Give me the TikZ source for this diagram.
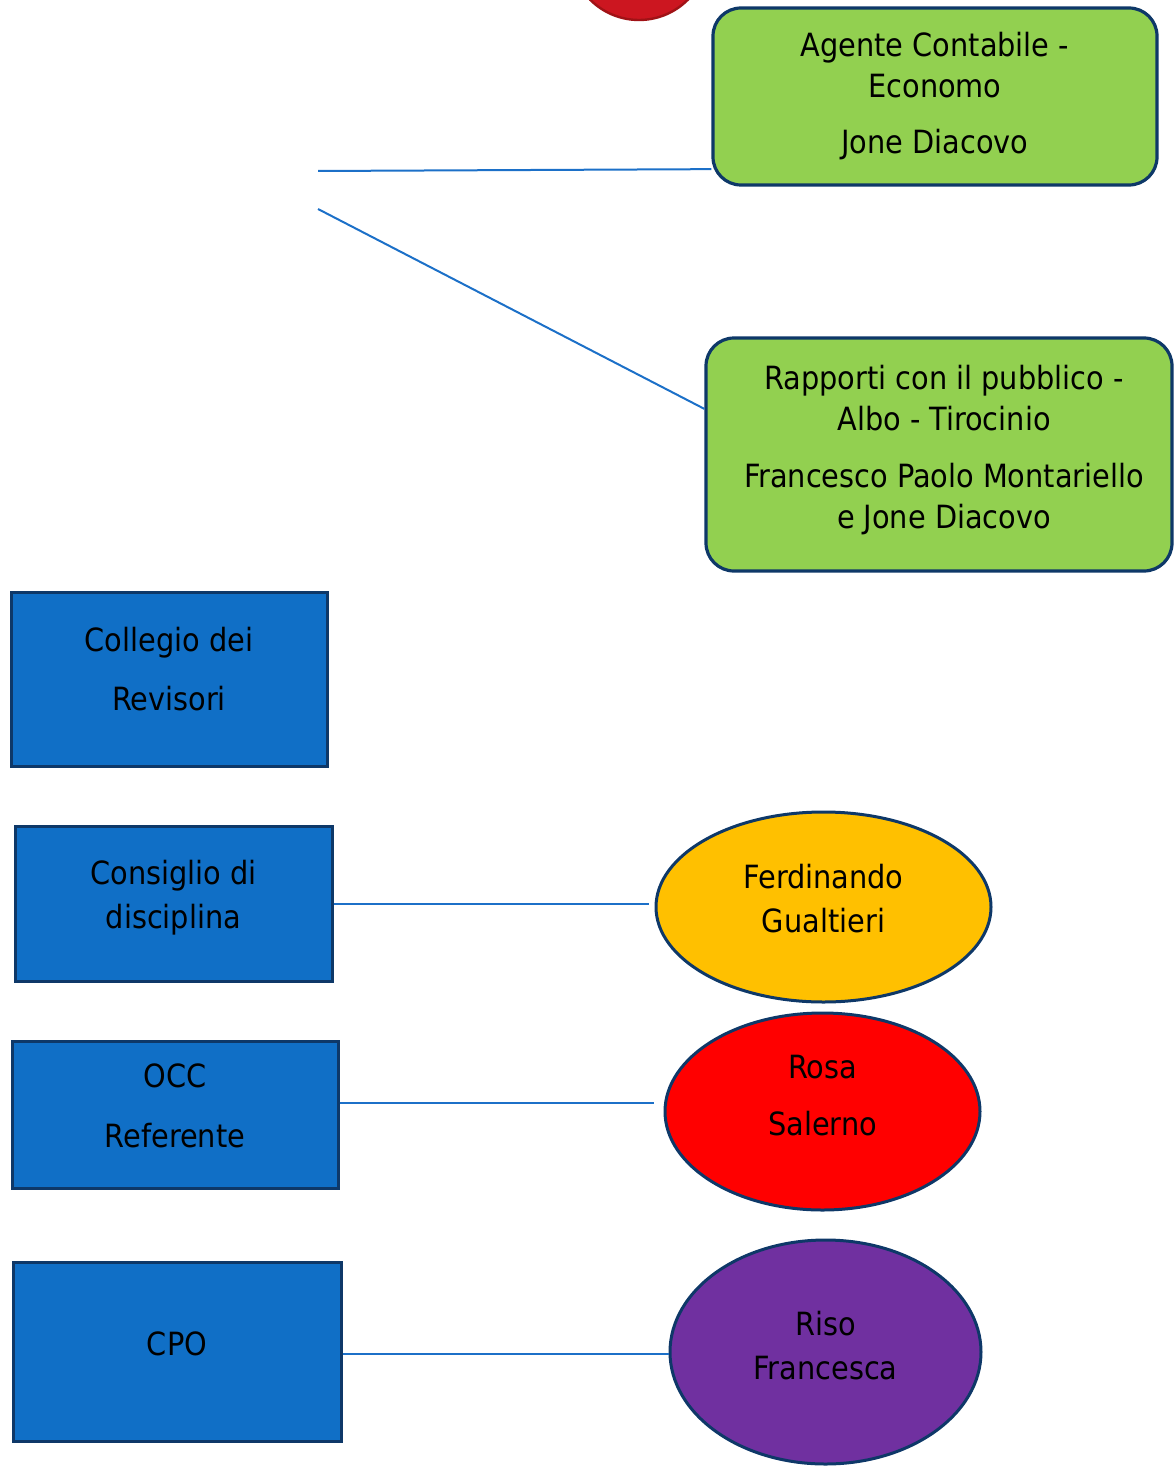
\documentclass[tikz,border=0pt]{standalone}
\usepackage{fontspec}
\setmainfont{DejaVu Sans Condensed}
\usetikzlibrary{shapes.geometric}

\definecolor{boxblue}{RGB}{16,111,198}
\definecolor{navyline}{RGB}{14,56,104}
\definecolor{leafgreen}{RGB}{146,208,80}
\definecolor{linkblue}{RGB}{28,112,200}
\definecolor{goldfill}{RGB}{255,192,0}
\definecolor{redfill}{RGB}{255,0,0}
\definecolor{purplefill}{RGB}{112,48,160}
\definecolor{topred}{RGB}{204,22,32}
\definecolor{topredline}{RGB}{160,18,22}

\begin{document}
\begin{tikzpicture}[x=0.5pt, y=-0.5pt, thick,
        every node/.style={align=center, inner sep=0pt, font=\fontsize{16}{20.5}\selectfont},
        orgbox/.style={draw=navyline, line width=1.5pt, fill=boxblue, rectangle},
        rolebox/.style={draw=navyline, line width=1.6pt, fill=leafgreen, rounded corners=14pt},
        person/.style={draw=navyline, line width=1.5pt, ellipse},
        link/.style={draw=linkblue, line width=1pt}]

        \useasboundingbox (0,0) rectangle (1173,1466);

        % Nodes
        \node [circle, draw=topredline, line width=1.2pt, fill=topred, minimum size=69pt] (top) at (639,-49) {};

        \node [rolebox, minimum width=222pt, minimum height=88.5pt] (agente) at (935,96.5)
            {Agente Contabile -\\Economo\\[7.5pt]Jone Diacovo};
        \node [rolebox, minimum width=233pt, minimum height=116.5pt,
            label={[xshift=2.5pt, yshift=2pt]center:{Rapporti con il pubblico -\\Albo - Tirocinio\\[8pt]Francesco Paolo Montariello\\e Jone Diacovo}}]
            (rapporti) at (939,454.5) {};

        \node [orgbox, minimum width=158pt, minimum height=87pt,
            label={[yshift=4.75pt]center:{Collegio dei\\[9pt]Revisori}}] (collegio) at (169,679) {};
        \node [orgbox, minimum width=158.5pt, minimum height=77.5pt,
            label={[yshift=3pt]center:{Consiglio di\\[1.5pt]disciplina}}] (consiglio) at (173.5,903.5) {};
        \node [orgbox, minimum width=163pt, minimum height=73.5pt,
            label={[yshift=4.5pt]center:{OCC\\[9.5pt]Referente}}] (occ) at (175,1114.5) {};
        \node [orgbox, minimum width=164pt, minimum height=89.5pt,
            label={[yshift=4pt]center:CPO}] (cpo) at (177,1351.5) {};

        \node [person, fill=goldfill, minimum width=167.5pt, minimum height=95pt,
            label={[yshift=4pt]center:{Ferdinando\\[1.5pt]Gualtieri}}] (gualtieri) at (823.5,907) {};
        \node [person, fill=redfill, minimum width=157.5pt, minimum height=98.5pt,
            label={[yshift=8pt]center:{Rosa\\[8pt]Salerno}}] (salerno) at (822.5,1111.5) {};
        \node [person, fill=purplefill, minimum width=155.5pt, minimum height=112pt,
            label={[yshift=3pt]center:{Riso\\[1.5pt]Francesca}}] (riso) at (825.5,1352) {};

        \coordinate (hubA) at (318,171);
        \coordinate (hubB) at (318,209);

        % Lines
        \draw [link] (hubA) -- (agente.198);
        \draw [link] (hubB) -- (rapporti.169);
        \draw [link, shorten >=3pt] (consiglio.east) -- (consiglio.east -| gualtieri.west);
        \draw [link, shorten >=5pt] (occ.4) -- (occ.4 -| salerno.west);
        \draw [link] (cpo.-1) -- (cpo.-1 -| riso.west);
\end{tikzpicture}
\end{document}
